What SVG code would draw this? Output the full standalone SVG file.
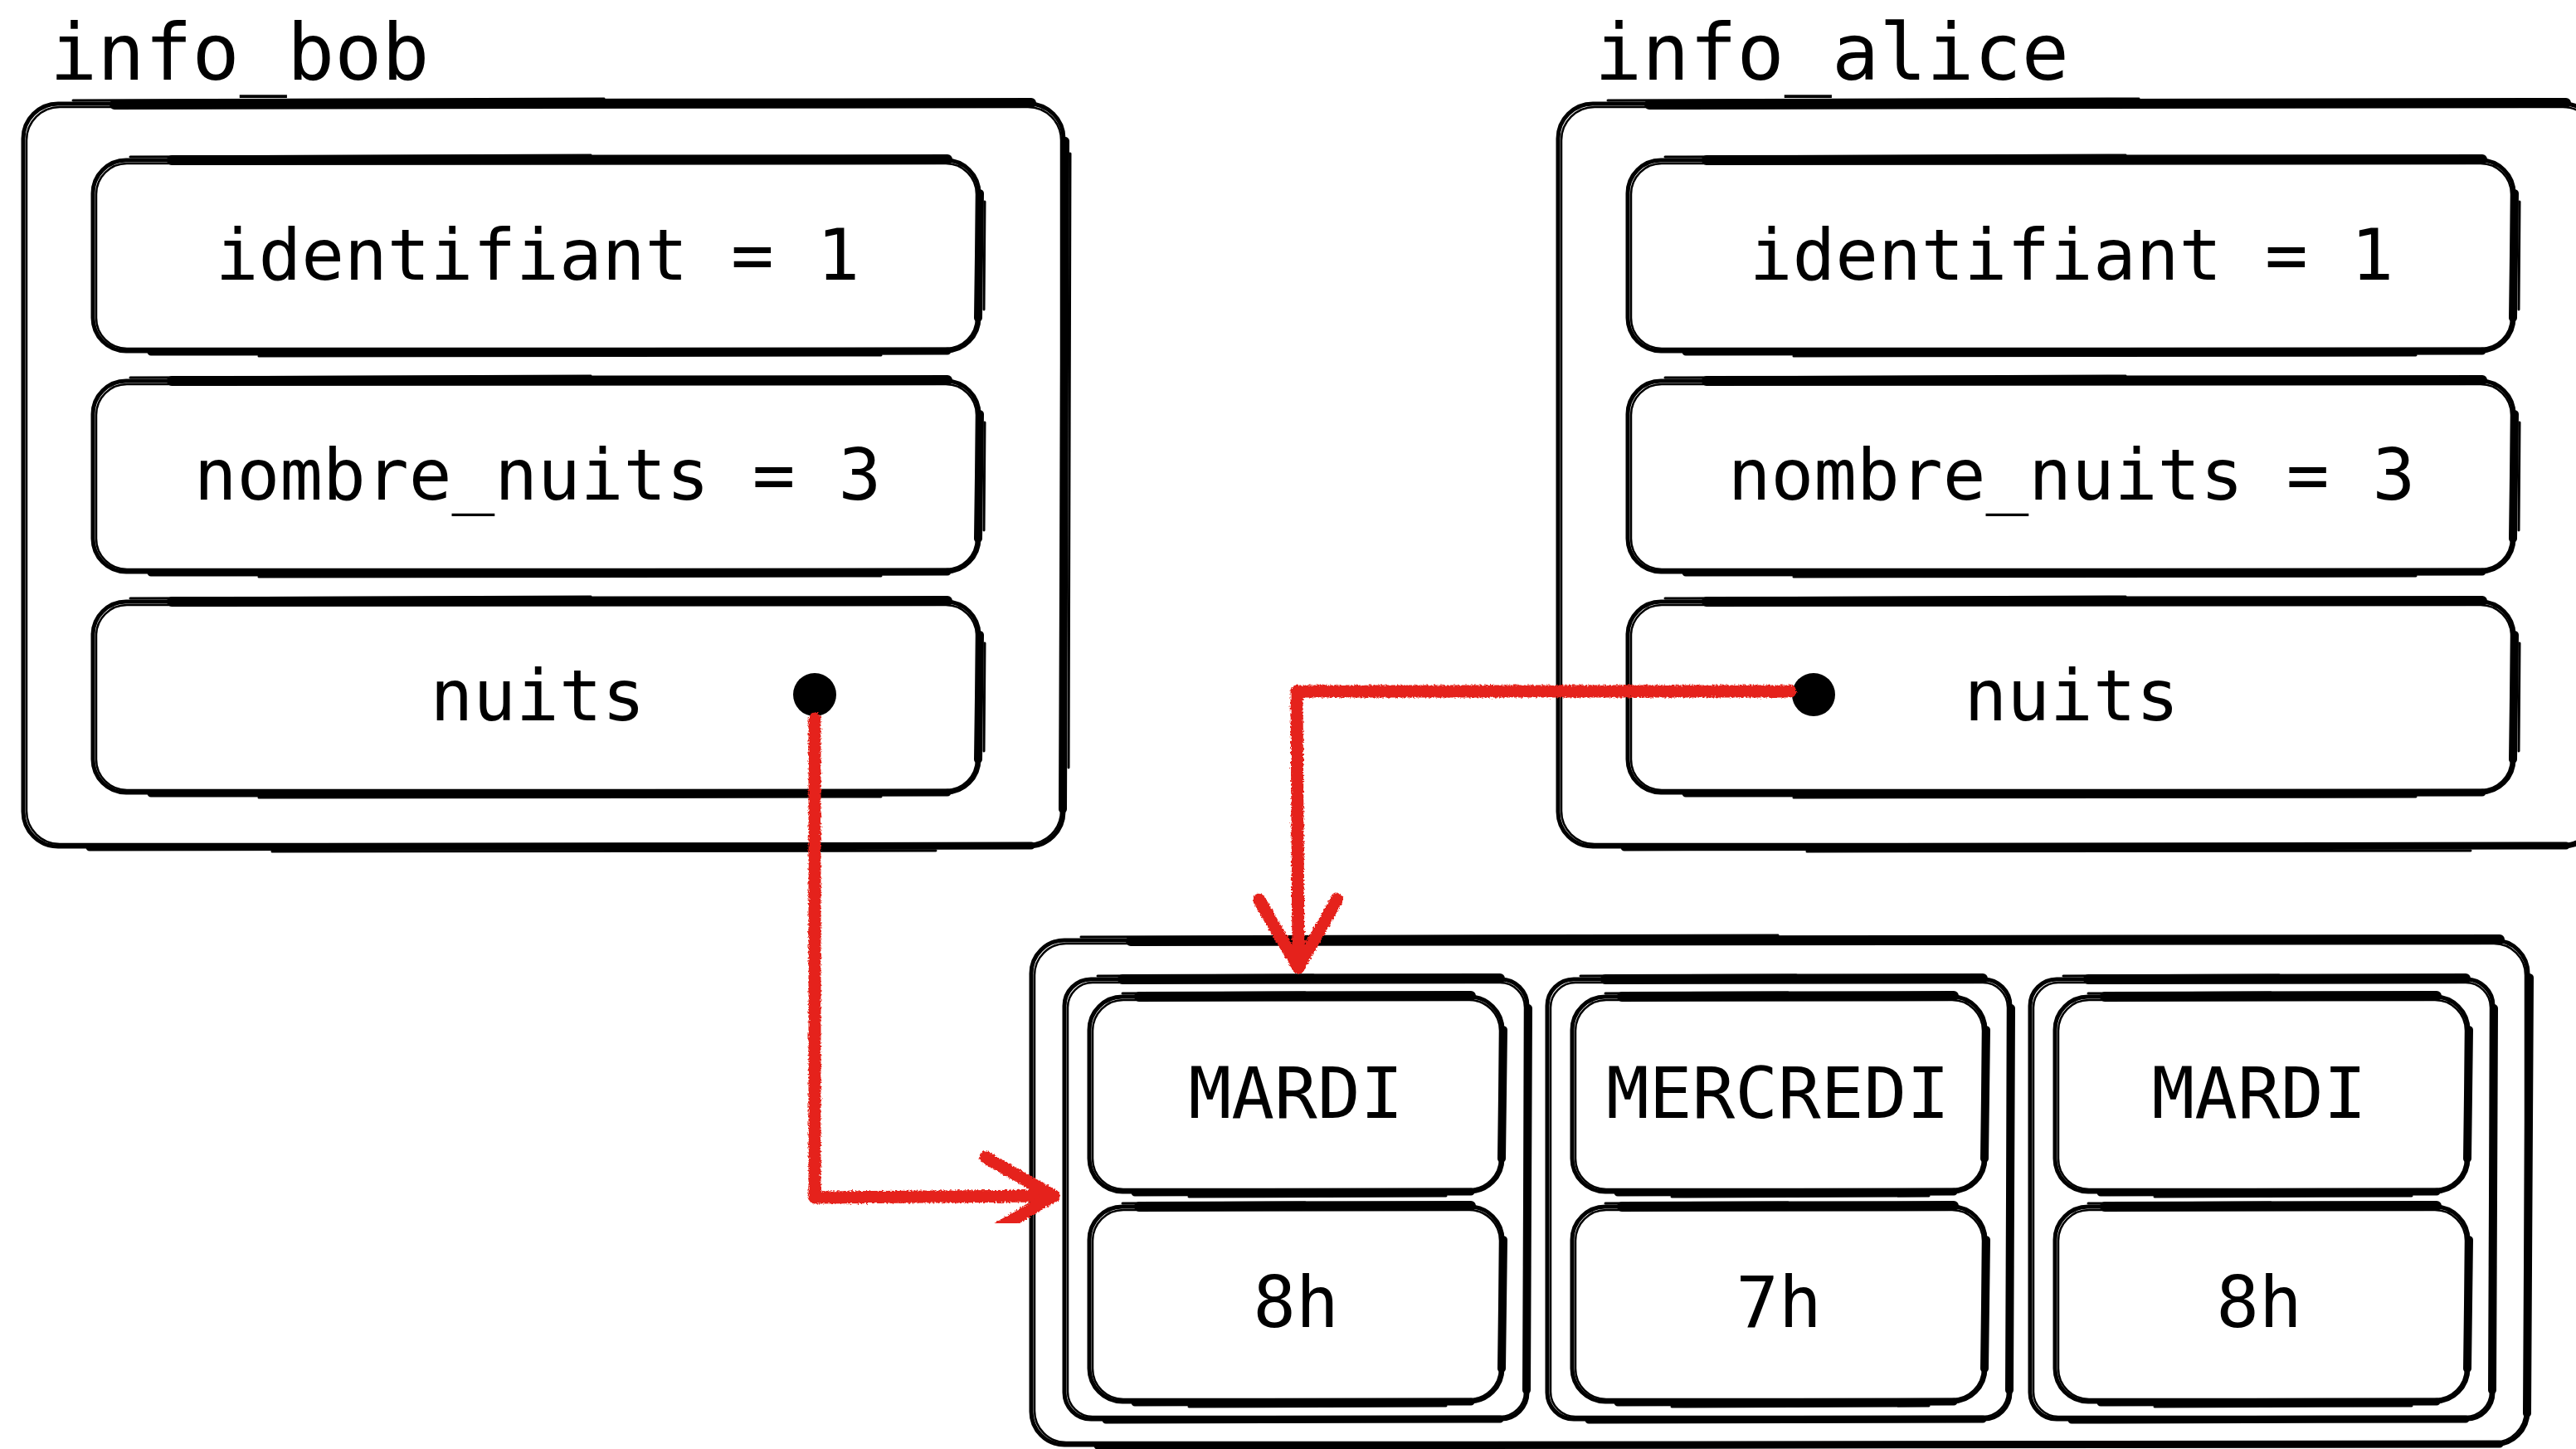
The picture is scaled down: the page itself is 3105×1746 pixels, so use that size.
<svg xmlns="http://www.w3.org/2000/svg" xmlns:xlink="http://www.w3.org/1999/xlink" width="3105" height="1746" viewBox="0 0 3105 1746">
  <style>
    .ln { fill: none; stroke: #000; stroke-width: 5; }
    .ln2 { fill: none; stroke: #000; stroke-width: 2.5; }
    .st { fill: none; stroke: #000; stroke-width: 3; stroke-linecap: round; }
    .bt { fill: none; stroke: #000; stroke-width: 12; stroke-linecap: round; }
    .br { fill: none; stroke: #000; stroke-width: 10; stroke-linecap: round; }
    .bb { fill: none; stroke: #000; stroke-width: 9; stroke-linecap: round; }
    .lbl { font-family: "DejaVu Sans Mono", "Liberation Mono", monospace; font-size: 86px; fill: #000; text-anchor: middle; }
    .title { font-family: "DejaVu Sans Mono", "Liberation Mono", monospace; font-size: 95px; fill: #000; }
    .dot { fill: #000; }
    .wire { fill: none; stroke: #e5231b; stroke-width: 15; stroke-linecap: round; stroke-linejoin: round; }
  </style>
  <defs>
    <!-- open chevron head for the red pointers -->
    <marker id="chevron" markerUnits="userSpaceOnUse" viewBox="-100 -60 120 120" markerWidth="120" markerHeight="120" refX="0" refY="0" orient="auto" overflow="visible">
      <path d="M-82 -47 L0 0 L-82 47" fill="none" stroke="#e5231b" stroke-width="15" stroke-linecap="round" stroke-linejoin="round"/>
    </marker>
    <filter id="rough" x="-5%" y="-5%" width="110%" height="110%">
      <feTurbulence type="fractalNoise" baseFrequency="0.45" numOctaves="2" seed="3"/>
      <feDisplacementMap in="SourceGraphic" scale="5" xChannelSelector="R" yChannelSelector="G"/>
    </filter>
    <!-- sketchy struct outline -->
    <g id="shape-struct">
      <rect class="ln" x="0" y="0" width="1254" height="895" rx="42"/>
      <rect class="ln2" x="4" y="4" width="1247" height="888" rx="40"/>
      <path class="bt" d="M110 1 L1215 -1"/>
      <path class="st" d="M60 -4 L700 -6"/>
      <path class="br" d="M1256 45 L1253 850"/>
      <path class="st" d="M1262 60 L1260 800"/>
      <path class="bb" d="M80 896 L1215 894"/>
      <path class="st" d="M300 901 L1100 900"/>
    </g>
    <!-- sketchy field outline -->
    <g id="shape-field">
      <rect class="ln" x="0" y="0" width="1068" height="230" rx="40"/>
      <rect class="ln2" x="4" y="4" width="1061" height="223" rx="37"/>
      <path class="bt" d="M95 0 L1030 -1"/>
      <path class="st" d="M45 -4 L600 -6"/>
      <path class="br" d="M1069 40 L1067 190"/>
      <path class="st" d="M1075 50 L1074 180"/>
      <path class="bb" d="M70 231 L1030 230"/>
      <path class="st" d="M200 236 L950 235"/>
    </g>
    <!-- sketchy array outline -->
    <g id="shape-array">
      <rect class="ln" x="0" y="0" width="1804" height="608" rx="40"/>
      <rect class="ln2" x="4" y="4" width="1797" height="601" rx="38"/>
      <path class="bt" d="M120 1 L1770 -1"/>
      <path class="st" d="M60 -4 L900 -6"/>
      <path class="br" d="M1806 45 L1803 570"/>
      <path class="bb" d="M80 609 L1770 607"/>
    </g>
    <!-- sketchy array slot outline -->
    <g id="shape-slot">
      <rect class="ln" x="0" y="0" width="558" height="530" rx="32"/>
      <rect class="ln2" x="4" y="4" width="551" height="523" rx="30"/>
      <path class="bt" d="M70 0 L525 -1"/>
      <path class="st" d="M40 -4 L300 -5"/>
      <path class="br" d="M559 35 L557 495"/>
      <path class="bb" d="M50 531 L525 530"/>
    </g>
    <!-- sketchy cell outline -->
    <g id="shape-cell">
      <rect class="ln" x="0" y="0" width="498" height="235" rx="40"/>
      <rect class="ln2" x="4" y="4" width="491" height="228" rx="37"/>
      <path class="bt" d="M60 0 L460 -1"/>
      <path class="st" d="M40 -4 L260 -5"/>
      <path class="br" d="M499 40 L497 195"/>
      <path class="bb" d="M55 236 L460 235"/>
      <path class="st" d="M120 241 L430 240"/>
    </g>
  </defs>

  <rect x="0" y="0" width="3105" height="1746" fill="#fff"/>

  <g id="info_bob">
    <text class="title" x="60" y="96">info_bob</text>
    <use xlink:href="#shape-struct" x="28" y="125"/>
    <g id="bob-identifiant">
      <use xlink:href="#shape-field" x="112" y="193"/>
      <text class="lbl" x="648" y="337">identifiant = 1</text>
    </g>
    <g id="bob-nombre_nuits">
      <use xlink:href="#shape-field" x="112" y="459"/>
      <text class="lbl" x="648" y="602">nombre_nuits = 3</text>
    </g>
    <g id="bob-nuits">
      <use xlink:href="#shape-field" x="112" y="725"/>
      <text class="lbl" x="648" y="868">nuits</text>
      <circle class="dot" cx="982" cy="837" r="26"/>
    </g>
  </g>

  <g id="info_alice">
    <text class="title" x="1922" y="96">info_alice</text>
    <use xlink:href="#shape-struct" x="1878" y="125"/>
    <g id="alice-identifiant">
      <use xlink:href="#shape-field" x="1962" y="193"/>
      <text class="lbl" x="2497" y="337">identifiant = 1</text>
    </g>
    <g id="alice-nombre_nuits">
      <use xlink:href="#shape-field" x="1962" y="459"/>
      <text class="lbl" x="2497" y="602">nombre_nuits = 3</text>
    </g>
    <g id="alice-nuits">
      <use xlink:href="#shape-field" x="1962" y="725"/>
      <text class="lbl" x="2497" y="868">nuits</text>
      <circle class="dot" cx="2186" cy="837" r="26"/>
    </g>
  </g>

  <g id="nuits-list">
    <use xlink:href="#shape-array" x="1243" y="1133"/>
    <g id="night-0">
      <use xlink:href="#shape-slot" x="1283" y="1180"/>
      <use xlink:href="#shape-cell" x="1313" y="1201"/>
      <text class="lbl" x="1562" y="1347">MARDI</text>
      <use xlink:href="#shape-cell" x="1313" y="1454"/>
      <text class="lbl" x="1562" y="1599">8h</text>
    </g>
    <g id="night-1">
      <use xlink:href="#shape-slot" x="1865" y="1180"/>
      <use xlink:href="#shape-cell" x="1895" y="1201"/>
      <text class="lbl" x="2143" y="1347">MERCREDI</text>
      <use xlink:href="#shape-cell" x="1895" y="1454"/>
      <text class="lbl" x="2144" y="1599">7h</text>
    </g>
    <g id="night-2">
      <use xlink:href="#shape-slot" x="2447" y="1180"/>
      <use xlink:href="#shape-cell" x="2477" y="1201"/>
      <text class="lbl" x="2723" y="1347">MARDI</text>
      <use xlink:href="#shape-cell" x="2477" y="1454"/>
      <text class="lbl" x="2723" y="1599">8h</text>
    </g>
  </g>

  <g id="connectors" filter="url(#rough)">
    <path class="wire" d="M982 866 L982 1443 L1270 1441" marker-end="url(#chevron)"/>
    <path class="wire" d="M2158 833 L1563 833 L1565 1166" marker-end="url(#chevron)"/>
  </g>
</svg>
